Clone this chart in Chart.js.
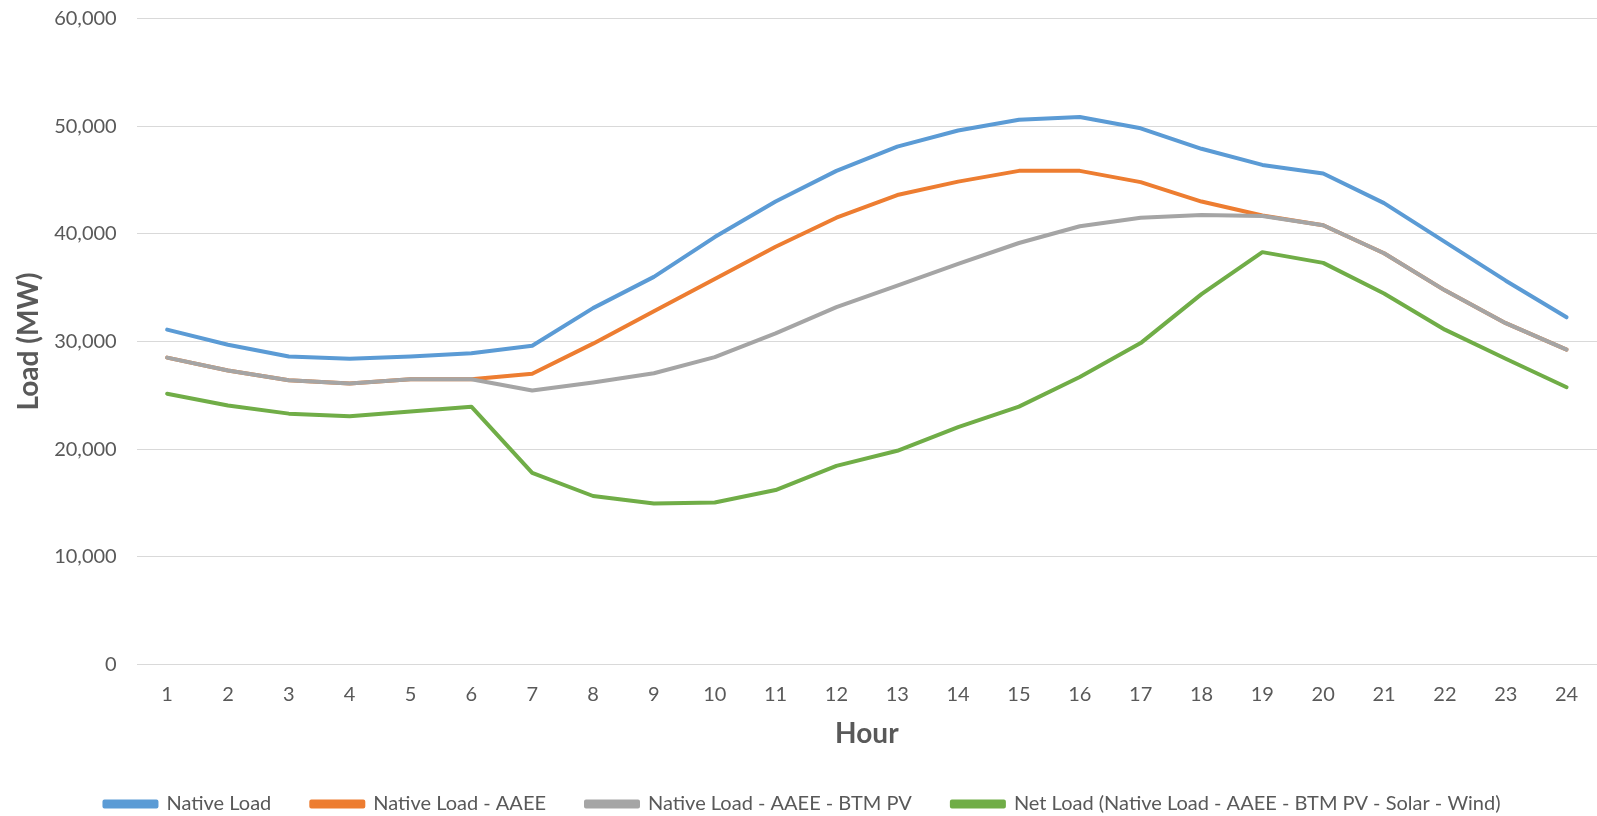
<!DOCTYPE html>
<html>
<head>
<meta charset="utf-8">
<title>Hourly Load Profile</title>
<script src="https://cdn.jsdelivr.net/npm/chart.js@4.4.1/dist/chart.umd.min.js"></script>
<style>
  html, body { margin: 0; padding: 0; background: #ffffff; overflow: hidden; }
  #wrap { position: relative; width: 1597px; height: 816px; }
</style>
</head>
<body>
<div id="wrap"><canvas id="loadChart"></canvas></div>
<script>
// Hour of day (x categories)
const hours = ['1','2','3','4','5','6','7','8','9','10','11','12','13','14','15','16','17','18','19','20','21','22','23','24'];

// Load in MW for each hour
const nativeLoad = [31100, 29700, 28600, 28400, 28600, 28900, 29600, 33100, 36000, 39700, 43000, 45850,
                    48100, 49600, 50600, 50850, 49800, 47900, 46400, 45600, 42850, 39250, 35650, 32250];
const lessAAEE   = [28500, 27300, 26400, 26100, 26500, 26500, 27000, 29800, 32800, 35800, 38800, 41500,
                    43600, 44850, 45850, 45850, 44800, 43000, 41700, 40800, 38200, 34750, 31700, 29250];
const lessBTMPV  = [28500, 27300, 26400, 26100, 26500, 26500, 25450, 26200, 27050, 28550, 30750, 33200,
                    35200, 37200, 39150, 40700, 41500, 41750, 41650, 40800, 38200, 34750, 31700, 29250];
const netLoad    = [25150, 24050, 23300, 23050, 23500, 23950, 17800, 15650, 14950, 15050, 16200, 18450,
                    19850, 22050, 23950, 26700, 29850, 34400, 38300, 37300, 34450, 31100, 28400, 25750];

// Y axis range
const yMin = 0, yMax = 60000, yStep = 10000;

const seriesNames = [
  'Native Load',
  'Native Load - AAEE',
  'Native Load - AAEE - BTM PV',
  'Net Load (Native Load - AAEE - BTM PV - Solar - Wind)'
];
const seriesColors = ['#5B9BD5', '#ED7D31', '#A5A5A5', '#70AD47'];

const textGrey = '#595959';
const fontFamily = 'Lato, "Noto Sans", sans-serif';

function lineSet(i, values, order) {
  return {
    label: seriesNames[i],
    data: values,
    borderColor: seriesColors[i],
    backgroundColor: seriesColors[i],
    borderWidth: 4,
    pointRadius: 0,
    pointHoverRadius: 0,
    tension: 0,
    borderCapStyle: 'round',
    borderJoinStyle: 'round',
    fill: false,
    order: order
  };
}

// Push the legend row closer to the bottom edge
const legendShift = {
  id: 'legendShift',
  afterLayout(chart) {
    const lg = chart.legend;
    if (lg) { lg.top += 8; lg.bottom += 8; }
  }
};

function build() {
  new Chart(document.getElementById('loadChart'), {
    type: 'line',
    data: {
      labels: hours,
      datasets: [
        lineSet(0, nativeLoad, 4),
        lineSet(1, lessAAEE, 3),
        lineSet(2, lessBTMPV, 2),
        lineSet(3, netLoad, 1)
      ]
    },
    options: {
      responsive: true,
      maintainAspectRatio: false,
      animation: false,
      events: [],
      layout: { padding: { left: 8, right: 0, top: 18.5, bottom: 0 } },
      plugins: {
        tooltip: { enabled: false },
        legend: {
          position: 'bottom',
          labels: {
            boxWidth: 52,
            boxHeight: 5,
            padding: 40,
            color: textGrey,
            font: { family: fontFamily, size: 20 },
            sort: (a, b) => a.datasetIndex - b.datasetIndex
          }
        }
      },
      scales: {
        x: {
          offset: true,
          grid: { display: false, drawTicks: false },
          border: { display: false },
          afterFit: (scale) => { scale.height = 81.5; },
          ticks: {
            color: textGrey,
            padding: 18.3,
            maxRotation: 0,
            autoSkip: false,
            font: { family: fontFamily, size: 20 }
          },
          title: {
            display: true,
            text: 'Hour',
            color: textGrey,
            padding: { top: 0, bottom: 0 },
            font: { family: fontFamily, size: 28, weight: 'bold', lineHeight: 0.87 }
          }
        },
        y: {
          min: yMin,
          max: yMax,
          grid: { color: '#D9D9D9', lineWidth: 1, drawTicks: false },
          border: { display: false },
          afterFit: (scale) => {
            scale.width = 128.7;
            scale.paddingTop = 0;
            scale.paddingBottom = 0;
          },
          ticks: {
            stepSize: yStep,
            color: textGrey,
            padding: 20,
            font: { family: fontFamily, size: 20 },
            callback: (v) => Number(v).toLocaleString('en-US')
          },
          title: {
            display: true,
            text: 'Load (MW)',
            color: textGrey,
            padding: { top: 4, bottom: 4 },
            font: { family: fontFamily, size: 28, weight: 'bold' }
          }
        }
      }
    },
    plugins: [legendShift]
  });
}

if (document.fonts && document.fonts.load) {
  Promise.all([
    document.fonts.load('20px Lato'),
    document.fonts.load('bold 28px Lato')
  ]).then(build, build);
} else {
  build();
}
</script>
</body>
</html>
